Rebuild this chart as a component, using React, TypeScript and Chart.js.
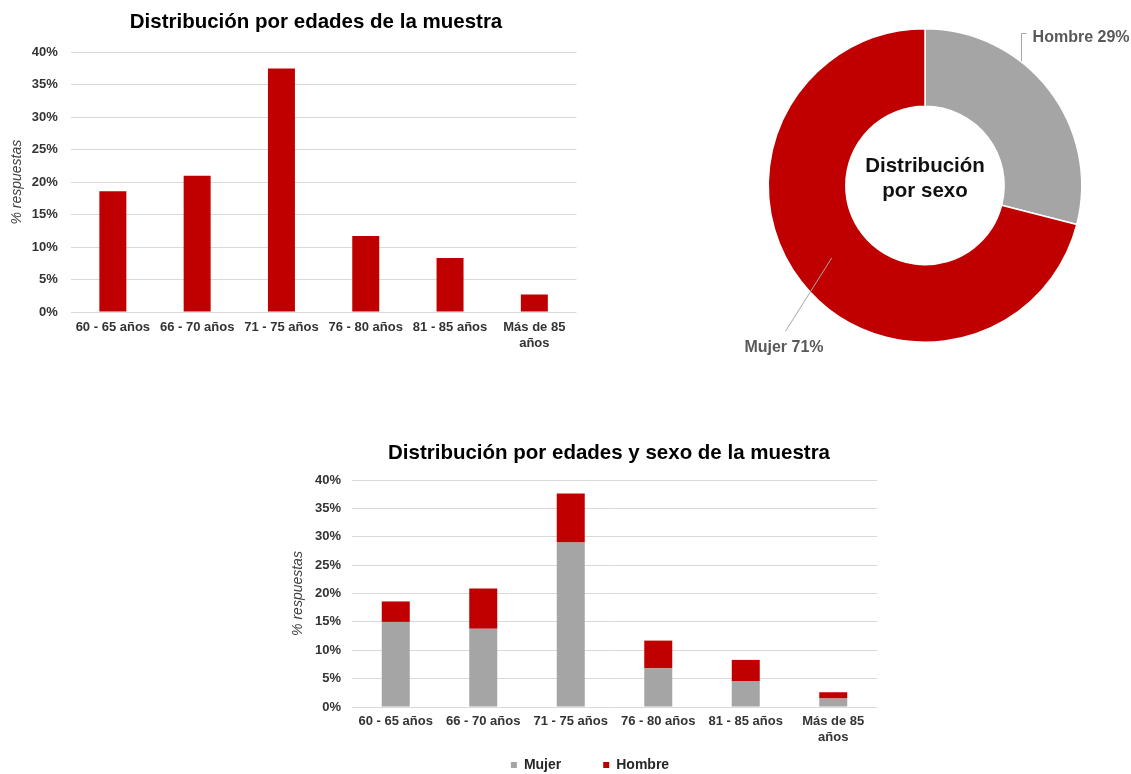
import React, { useEffect, useRef } from 'react';
import { Chart, registerables } from 'chart.js';

Chart.register(...registerables);

// ---------- data ----------
const ageLabels: (string | string[])[] = [
  '60 - 65 años',
  '66 - 70 años',
  '71 - 75 años',
  '76 - 80 años',
  '81 - 85 años',
  ['Más de 85', 'años'],
];
const ageShare = [18.6, 21.0, 37.5, 11.7, 8.3, 2.7];
const mujerShare = [15.0, 13.8, 29.0, 6.8, 4.5, 1.5];
const hombreShare = [3.6, 7.1, 8.6, 4.9, 3.8, 1.1];
const sexLabels = ['Hombre', 'Mujer'];
const sexShare = [29, 71];
const centerTitle = ['Distribución', 'por sexo'];
const yMax = 40;
const yStep = 5;

const titleAges = 'Distribución por edades de la muestra';
const titleAgesSex = 'Distribución por edades y sexo de la muestra';
const yTitle = '% respuestas';

// ---------- styles ----------
const FONT = '"Liberation Sans", Arial, Helvetica, sans-serif';
const RED = '#c00000';
const GRAY = '#a5a5a5';
const GRID = '#d9d9d9';
const TICK = '#333333';

function yScale(width: number, titlePad: number, tickPad: number) {
  return {
    type: 'linear',
    min: 0,
    max: yMax,
    ticks: {
      stepSize: yStep,
      callback: (v: any) => v + '%',
      color: TICK,
      font: { family: FONT, size: 13, weight: 'bold' },
      padding: tickPad,
    },
    grid: { color: GRID, lineWidth: 1, drawTicks: false },
    border: { display: false },
    title: {
      display: true,
      text: yTitle,
      color: '#404040',
      font: { family: FONT, size: 14, style: 'italic' },
      padding: { top: titlePad, bottom: 0 },
    },
    afterFit: (s: any) => {
      s.width = width;
    },
  };
}

function dummyRight(width: number) {
  return {
    type: 'linear',
    position: 'right',
    display: true,
    grid: { display: false, drawTicks: false },
    ticks: { display: false },
    border: { display: false },
    afterFit: (s: any) => {
      s.width = width;
    },
  };
}

function xScale(height: number, pad: number, stacked: boolean) {
  return {
    stacked,
    grid: { display: false, drawTicks: false },
    border: { display: false },
    ticks: {
      color: TICK,
      font: { family: FONT, size: 13, weight: 'bold', lineHeight: 1.2 },
      padding: pad,
      maxRotation: 0,
      autoSkip: false,
    },
    afterFit: (s: any) => {
      s.height = height;
    },
  };
}

// moves the legend so that it sits where the reference has it
const legendShift = {
  id: 'legendShift',
  afterLayout(chart: any) {
    const lg = chart.legend;
    if (lg) {
      lg.left -= 19;
      lg.right -= 19;
      lg.top -= 31;
      lg.bottom -= 31;
    }
  },
};

const doughnutLabels = {
  id: 'doughnutLabels',
  afterDraw(chart: any) {
    const ctx = chart.ctx as CanvasRenderingContext2D;
    const arcs = chart.getDatasetMeta(0).data as any[];
    if (!arcs.length) return;
    const a0 = arcs[0];
    const cx = a0.x;
    const cy = a0.y;
    const R = a0.outerRadius;
    const r = a0.innerRadius;
    ctx.save();
    // center title
    ctx.fillStyle = '#111111';
    ctx.font = `bold 20.5px ${FONT}`;
    ctx.textAlign = 'center';
    ctx.textBaseline = 'alphabetic';
    centerTitle.forEach((line, i) => ctx.fillText(line, cx, cy - 13.5 + i * 24.7));

    ctx.strokeStyle = '#a6a6a6';
    ctx.lineWidth = 1;
    ctx.fillStyle = '#595959';
    ctx.font = `bold 16px ${FONT}`;

    // Hombre (first slice)
    const h = arcs[0];
    const th = h.startAngle + 0.36 * (h.endAngle - h.startAngle);
    const ax = cx + R * Math.cos(th);
    const ay = cy + R * Math.sin(th);
    const ey = cy - R * 0.975;
    ctx.beginPath();
    ctx.moveTo(Math.round(ax) + 0.5, ay);
    ctx.lineTo(Math.round(ax) + 0.5, Math.round(ey) + 0.5);
    ctx.lineTo(Math.round(ax) + 5.5, Math.round(ey) + 0.5);
    ctx.stroke();
    ctx.textAlign = 'left';
    ctx.fillText(`${sexLabels[0]} ${sexShare[0]}%`, ax + 12, ey + 9);

    // Mujer (second slice)
    const m = arcs[1];
    const tm = (m.startAngle + m.endAngle) / 2;
    const rm = (R + r) / 2;
    const mx = cx + rm * Math.cos(tm);
    const my = cy + rm * Math.sin(tm);
    const ex = cx - 0.89 * R;
    const ey2 = cy + 0.93 * R;
    ctx.beginPath();
    ctx.moveTo(mx, my);
    ctx.lineTo(ex, ey2);
    ctx.stroke();
    ctx.textAlign = 'center';
    ctx.fillText(`${sexLabels[1]} ${sexShare[1]}%`, ex - 1.5, ey2 + 21);
    ctx.restore();
  },
};

// ---------- chart configs ----------
function ageConfig(): any {
  return {
    type: 'bar',
    data: {
      labels: ageLabels,
      datasets: [
        {
          data: ageShare,
          backgroundColor: RED,
          barPercentage: 0.32,
          categoryPercentage: 1,
          xAxisID: 'x',
          yAxisID: 'y',
        },
      ],
    },
    options: {
      responsive: false,
      animation: false,
      devicePixelRatio: 1,
      layout: { padding: 0 },
      plugins: {
        legend: { display: false },
        tooltip: { enabled: false },
        title: {
          display: true,
          text: titleAges,
          color: '#000000',
          font: { family: FONT, size: 20.5, weight: 'bold', lineHeight: 1.2 },
          padding: { top: 10.2, bottom: 17.5 },
        },
      },
      scales: {
        x: xScale(48, 8, false),
        y: yScale(70.7, 8.5, 13),
        yR: dummyRight(55.5),
      },
    },
  };
}

function sexConfig(): any {
  return {
    type: 'doughnut',
    data: {
      labels: sexLabels,
      datasets: [
        {
          data: sexShare,
          backgroundColor: [GRAY, RED],
          borderColor: '#ffffff',
          borderWidth: 1.5,
          hoverOffset: 0,
        },
      ],
    },
    options: {
      responsive: false,
      animation: false,
      devicePixelRatio: 1,
      cutout: '50.5%',
      layout: { padding: { left: 67.5, right: 48.5, top: 28, bottom: 29 } },
      plugins: {
        legend: { display: false },
        tooltip: { enabled: false },
      },
    },
    plugins: [doughnutLabels],
  };
}

function ageSexConfig(): any {
  return {
    type: 'bar',
    data: {
      labels: ageLabels,
      datasets: [
        {
          label: 'Mujer',
          data: mujerShare,
          backgroundColor: GRAY,
          barPercentage: 0.32,
          categoryPercentage: 1,
          xAxisID: 'x',
          yAxisID: 'y',
        },
        {
          label: 'Hombre',
          data: hombreShare,
          backgroundColor: RED,
          barPercentage: 0.32,
          categoryPercentage: 1,
          xAxisID: 'x',
          yAxisID: 'y',
        },
      ],
    },
    options: {
      responsive: false,
      animation: false,
      devicePixelRatio: 1,
      layout: { padding: 0 },
      plugins: {
        tooltip: { enabled: false },
        title: {
          display: true,
          text: titleAgesSex,
          color: '#000000',
          font: { family: FONT, size: 20.5, weight: 'bold', lineHeight: 1.2 },
          padding: { top: 10.7, bottom: 14.7 },
        },
        legend: {
          display: true,
          position: 'bottom',
          labels: {
            boxWidth: 6,
            boxHeight: 6,
            padding: 42,
            color: '#262626',
            font: { family: FONT, size: 14, weight: 'bold' },
          },
        },
      },
      scales: {
        x: xScale(40, 7, true),
        y: { ...yScale(72, 9.5, 11), stacked: true },
        yR: dummyRight(61),
      },
    },
    plugins: [legendShift],
  };
}

// ---------- components ----------
function ChartBox(props: { left: number; top: number; width: number; height: number; build: () => any }) {
  const { left, top, width, height, build } = props;
  const ref = useRef<HTMLCanvasElement>(null);
  useEffect(() => {
    if (!ref.current) return;
    const chart = new Chart(ref.current, build());
    return () => chart.destroy();
  }, []);
  return (
    <div style={{ position: 'absolute', left, top, width, height }}>
      <canvas ref={ref} width={width} height={height} style={{ display: 'block', width, height }} />
    </div>
  );
}

export default function App() {
  return (
    <div
      style={{
        position: 'fixed',
        left: 0,
        top: 0,
        width: 1131,
        height: 774,
        overflow: 'hidden',
        background: '#ffffff',
      }}
    >
      <ChartBox left={0} top={0} width={632} height={360} build={ageConfig} />
      <ChartBox left={700} top={0} width={431} height={372} build={sexConfig} />
      <ChartBox left={280} top={430} width={658} height={383} build={ageSexConfig} />
    </div>
  );
}
